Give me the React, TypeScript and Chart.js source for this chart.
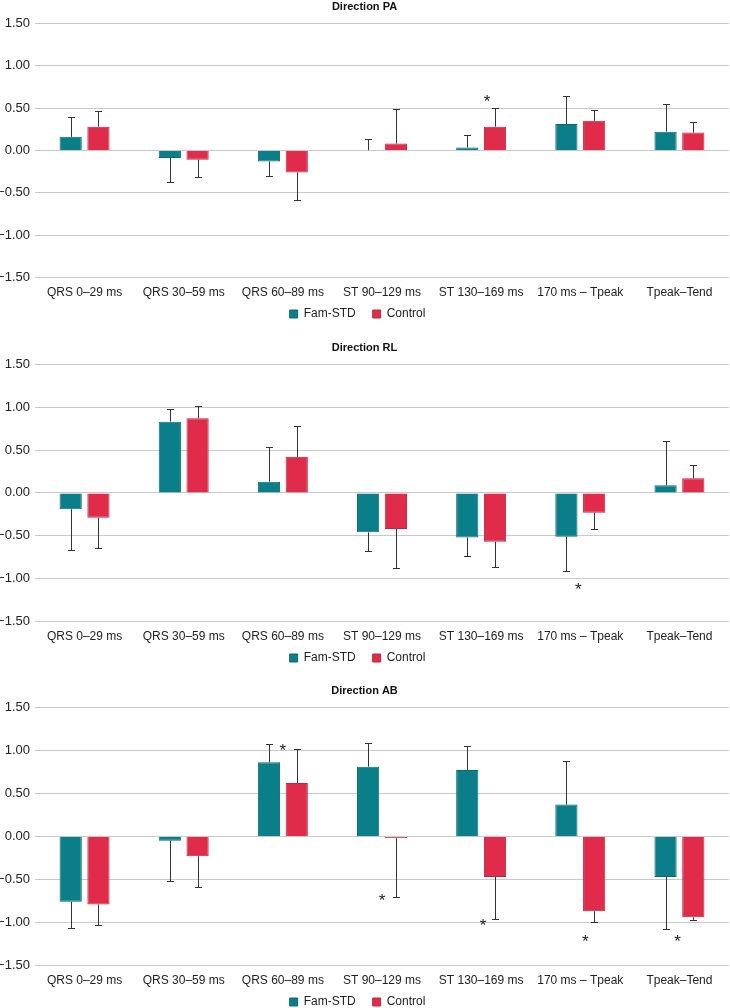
import React, { useEffect, useRef } from "react";
import { Chart, registerables } from "chart.js";

Chart.register(...registerables);

const categories = [
  "QRS 0–29 ms",
  "QRS 30–59 ms",
  "QRS 60–89 ms",
  "ST 90–129 ms",
  "ST 130–169 ms",
  "170 ms – Tpeak",
  "Tpeak–Tend",
];

const seriesNames = ["Fam-STD", "Control"];
const yTicks = [-1.5, -1.0, -0.5, 0, 0.5, 1.0, 1.5];

// Direction PA
const famPA = [0.16, -0.09, -0.13, 0.0, 0.035, 0.31, 0.22];
const famPAErr = [0.39, -0.37, -0.3, 0.13, 0.18, 0.64, 0.55];
const ctrlPA = [0.28, -0.11, -0.26, 0.08, 0.28, 0.35, 0.21];
const ctrlPAErr = [0.46, -0.31, -0.58, 0.49, 0.5, 0.48, 0.33];
const starsPA = [{ cat: 4, y: 0.63, dx: 0.06 }];

// Direction RL
const famRL = [-0.19, 0.83, 0.13, -0.46, -0.52, -0.51, 0.09];
const famRLErr = [-0.66, 0.98, 0.53, -0.68, -0.74, -0.91, 0.6];
const ctrlRL = [-0.29, 0.87, 0.42, -0.42, -0.57, -0.23, 0.17];
const ctrlRLErr = [-0.64, 1.01, 0.78, -0.87, -0.86, -0.42, 0.33];
const starsRL = [{ cat: 5, y: -1.07, dx: -0.02 }];

// Direction AB
const famAB = [-0.76, -0.05, 0.86, 0.81, 0.77, 0.37, -0.47];
const famABErr = [-1.065, -0.52, 1.07, 1.09, 1.05, 0.88, -1.08];
const ctrlAB = [-0.79, -0.23, 0.62, -0.02, -0.47, -0.87, -0.94];
const ctrlABErr = [-1.03, -0.59, 1.01, -0.7, -0.96, -0.99, -0.97];
const starsAB = [
  { cat: 2, y: 1.05, dx: 0.0 },
  { cat: 3, y: -0.69, dx: 0.0 },
  { cat: 4, y: -0.98, dx: 0.02 },
  { cat: 5, y: -1.17, dx: 0.05 },
  { cat: 6, y: -1.17, dx: -0.02 },
];

const TEAL = "#0b7f89";
const RED = "#e02b4a";
const FONT = '"Liberation Sans", Arial, Helvetica, sans-serif';

Chart.defaults.font.family = FONT;
Chart.defaults.color = "#222";

const errorBarPlugin = {
  id: "errorBars",
  afterDatasetsDraw(chart: any) {
    const ctx = chart.ctx;
    const yScale = chart.scales.y;
    ctx.save();
    ctx.strokeStyle = "#333";
    ctx.lineWidth = 1;
    chart.data.datasets.forEach((ds: any, i: number) => {
      const meta = chart.getDatasetMeta(i);
      const errs = ds.errorTo || [];
      meta.data.forEach((el: any, j: number) => {
        const e = errs[j];
        if (e === undefined || e === null) return;
        const x = Math.round(el.x) + 0.5;
        const y0 = el.y;
        const y1 = Math.round(yScale.getPixelForValue(e)) + 0.5;
        ctx.beginPath();
        ctx.moveTo(x, y0);
        ctx.lineTo(x, y1);
        ctx.moveTo(x - 3.5, y1);
        ctx.lineTo(x + 3.5, y1);
        ctx.stroke();
      });
    });
    ctx.restore();
  },
};

const starPlugin = {
  id: "stars",
  afterDatasetsDraw(chart: any, _args: any, opts: any) {
    const stars = opts.list || [];
    const ctx = chart.ctx;
    const xs = chart.scales.x;
    const ys = chart.scales.y;
    const catW = xs.width / categories.length;
    ctx.save();
    ctx.fillStyle = "#222";
    ctx.font = `17px ${FONT}`;
    ctx.textAlign = "center";
    ctx.textBaseline = "alphabetic";
    stars.forEach((s: any) => {
      const x = xs.getPixelForValue(s.cat) + s.dx * catW;
      const y = ys.getPixelForValue(s.y);
      ctx.fillText("*", x, y + 10);
    });
    ctx.restore();
  },
};

// nudges the legend box (position only) to sit like the original figure
const legendShiftPlugin = {
  id: "legendShift",
  afterLayout(chart: any) {
    const lg = chart.legend;
    if (lg) {
      lg.left -= 7;
      lg.right -= 7;
      lg.top -= 17;
      lg.bottom -= 17;
    }
  },
};

function fmt(v: number) {
  return v.toFixed(2).replace("-", "−");
}

type PanelProps = {
  title: string;
  fam: number[];
  famErr: number[];
  ctrl: number[];
  ctrlErr: number[];
  stars: { cat: number; y: number; dx: number }[];
  top: number;
  height: number;
};

function Panel({ title, fam, famErr, ctrl, ctrlErr, stars, top, height }: PanelProps) {
  const ref = useRef<HTMLCanvasElement | null>(null);
  useEffect(() => {
    if (!ref.current) return;
    const chart = new Chart(ref.current, {
      type: "bar",
      data: {
        labels: categories,
        datasets: [
          {
            label: seriesNames[0],
            data: fam,
            errorTo: famErr,
            backgroundColor: TEAL,
            borderColor: "#0a6a72",
            borderWidth: 1,
            categoryPercentage: 0.56,
            barPercentage: 0.8,
          } as any,
          {
            label: seriesNames[1],
            data: ctrl,
            errorTo: ctrlErr,
            backgroundColor: RED,
            borderColor: "#b8283f",
            borderWidth: 1,
            categoryPercentage: 0.56,
            barPercentage: 0.8,
          } as any,
        ],
      },
      options: {
        animation: false,
        responsive: true,
        maintainAspectRatio: false,
        layout: { padding: { left: 0, right: 1, top: 0, bottom: 0 } },
        plugins: {
          title: {
            display: true,
            text: title,
            font: { size: 11, weight: "bold", family: FONT },
            color: "#111",
            padding: { top: 0, bottom: 10 },
          },
          legend: {
            position: "bottom",
            labels: {
              boxWidth: 8,
              boxHeight: 8,
              padding: 17,
              font: { size: 12, family: FONT },
              color: "#222",
            },
          },
          tooltip: { enabled: false },
          stars: { list: stars },
        } as any,
        scales: {
          x: {
            grid: { display: false, drawTicks: false },
            border: { display: false },
            ticks: {
              font: { size: 12, family: FONT },
              color: "#222",
              padding: 8,
              maxRotation: 0,
              minRotation: 0,
              autoSkip: false,
            },
          },
          y: {
            min: -1.5,
            max: 1.5,
            afterBuildTicks: (axis: any) => {
              axis.ticks = yTicks.map((v) => ({ value: v }));
            },
            afterFit: (scale: any) => {
              scale.width = 35;
            },
            grid: { color: "#c9c9c9", drawTicks: false, lineWidth: 1 },
            border: { display: false },
            ticks: {
              font: { size: 13, family: FONT },
              color: "#222",
              padding: 5,
              callback: (v: any) => fmt(Number(v)),
            },
          },
        },
      },
      plugins: [errorBarPlugin, starPlugin, legendShiftPlugin],
    });
    return () => chart.destroy();
  }, []);
  return (
    <div style={{ position: "absolute", left: 0, top, width: 730, height }}>
      <canvas ref={ref} />
    </div>
  );
}

export default function App() {
  return (
    <div
      style={{
        position: "fixed",
        left: 0,
        top: 0,
        width: 730,
        height: 1008,
        overflow: "hidden",
        background: "#fff",
      }}
    >
      <Panel title="Direction PA" fam={famPA} famErr={famPAErr} ctrl={ctrlPA} ctrlErr={ctrlPAErr} stars={starsPA} top={0} height={347} />
      <Panel title="Direction RL" fam={famRL} famErr={famRLErr} ctrl={ctrlRL} ctrlErr={ctrlRLErr} stars={starsRL} top={341} height={350} />
      <Panel title="Direction AB" fam={famAB} famErr={famABErr} ctrl={ctrlAB} ctrlErr={ctrlABErr} stars={starsAB} top={684} height={351} />
    </div>
  );
}
